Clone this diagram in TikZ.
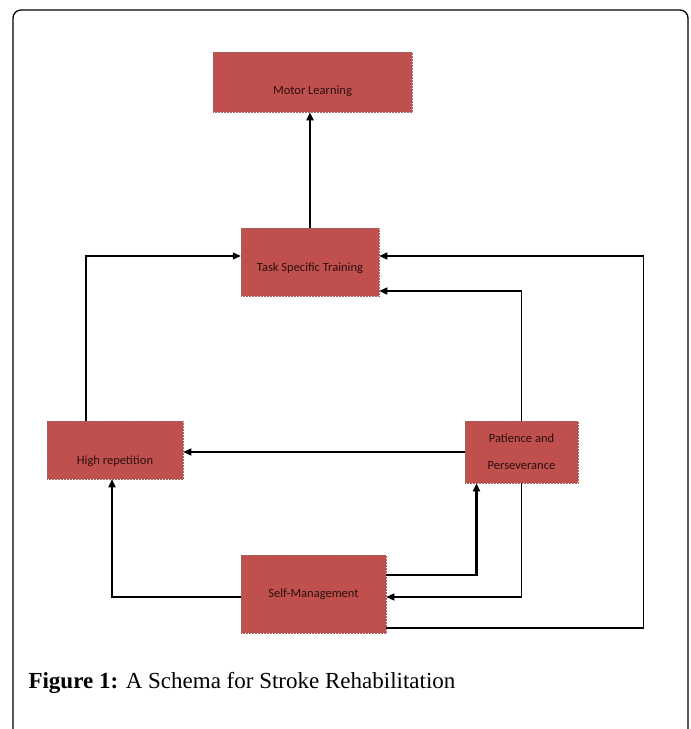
\documentclass[tikz,border=0pt]{standalone}
\usepackage{fontspec}
\usepackage{tikz}
\usetikzlibrary{calc,arrows.meta}
\newfontfamily\boxfont{Carlito}
\newfontfamily\capfont{Liberation Serif}
\definecolor{boxred}{HTML}{C0504D}
\definecolor{boxtext}{HTML}{2B0F0F}
\tikzset{
	box/.style={fill=boxred, draw=boxred!55!gray, densely dotted, line width=0.5pt, text=boxtext, inner sep=0pt, font=\boxfont\fontsize{12.5}{14}\selectfont},
	link/.style={line width=1.4pt, -{Triangle[length=8pt,width=7pt]}},
}

\begin{document}
\begin{tikzpicture}[x=1pt,y=-1pt]
			%draw frame
			\clip (0,0) rectangle (691,729);
			\draw[line width=1.3pt, rounded corners=8pt] (13,10) rectangle (688,760);
			%draw boxes
			\node[box, minimum width=199pt, minimum height=60pt, text height=24pt, text depth=0pt] (motor) at (312.5,82) {Motor Learning};
			\node[box, minimum width=138pt, minimum height=68pt, text height=18pt, text depth=0pt] (train) at (310,262) {Task Specific Training};
			\node[box, minimum width=136pt, minimum height=58pt, text height=28pt, text depth=0pt] (rep) at (115,450) {High repetition};
			\node[box, minimum width=113pt, minimum height=62pt, align=center] (pat) at (521.5,452) {Patience and\\[13pt]Perseverance};
			\node[box, minimum width=145pt, minimum height=78pt] (self) at (313.5,594) {Self-Management};
			%draw arrows
			\draw[link, line width=2.2pt] (train.north) -- (train.north |- motor.south);
			\draw[link] ([xshift=-29pt]rep.north) |- ([yshift=6pt]train.west);
			\draw[link] ([yshift=-34pt]self.east) -- ++(257,0) |- ([yshift=6pt]train.east);
			\draw[link] (pat.north) |- ([yshift=-29pt]train.east);
			\draw[link] (pat.west) -- (pat.west -| rep.east);
			\draw[link, line width=2.2pt] ([yshift=19pt]self.east) -| ([xshift=-45pt]pat.south);
			\draw[link] (pat.south) |- ([yshift=-3pt]self.east);
			\draw[link] ([yshift=-3pt]self.west) -| ([xshift=-3pt]rep.south);
			%draw caption
			\node[anchor=base west, font=\capfont\fontsize{23}{27}\selectfont] (caption) at (25,688) {\textbf{Figure 1:} A Schema for Stroke Rehabilitation};
\end{tikzpicture}
\end{document}
